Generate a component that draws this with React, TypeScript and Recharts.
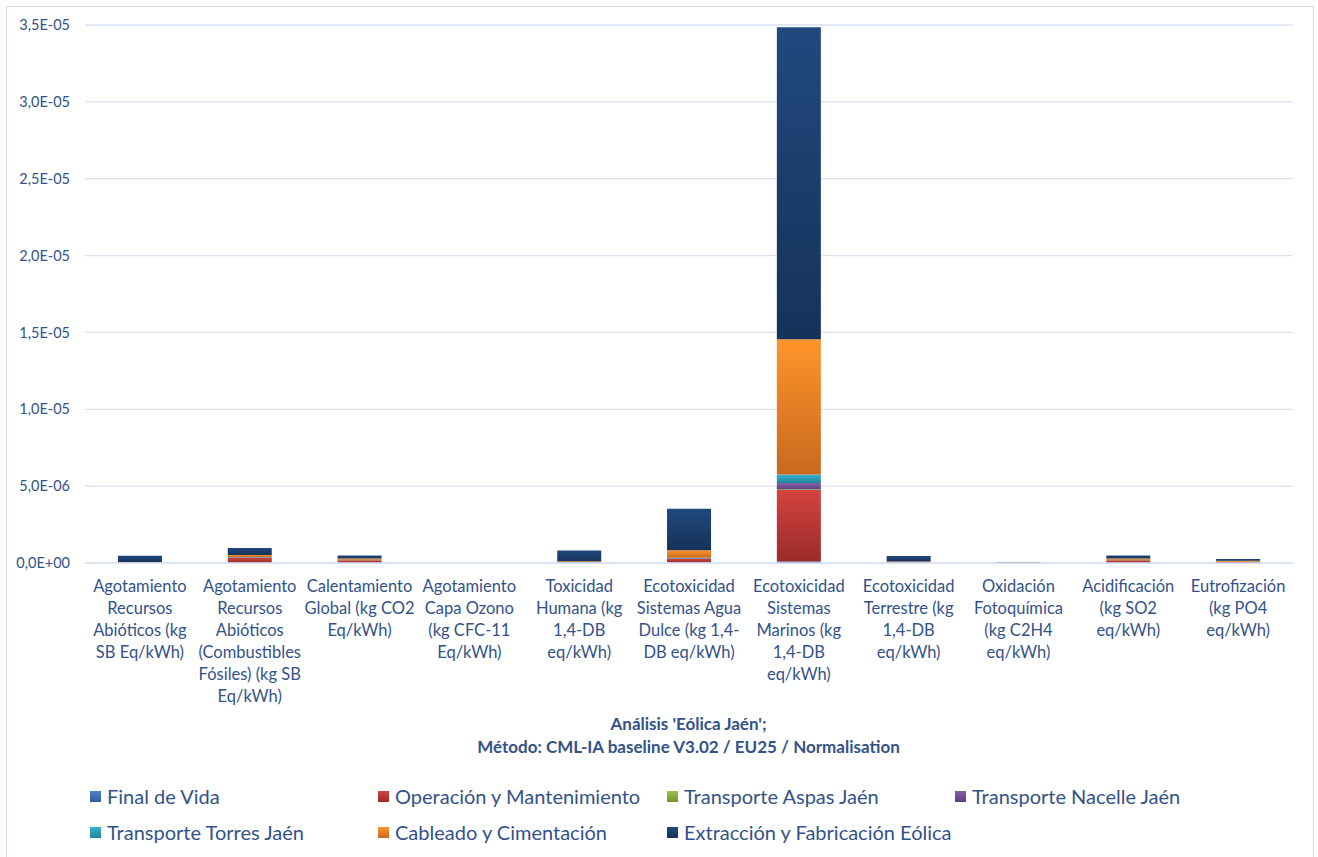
import React from "react";
import { BarChart, Bar, XAxis, YAxis, CartesianGrid } from "recharts";

// ---------- data ----------
const categoryLines: string[][] = [
  ["Agotamiento", "Recursos", "Abióticos (kg", "SB Eq/kWh)"],
  ["Agotamiento", "Recursos", "Abióticos", "(Combustibles", "Fósiles) (kg SB", "Eq/kWh)"],
  ["Calentamiento", "Global (kg CO2", "Eq/kWh)"],
  ["Agotamiento", "Capa Ozono", "(kg CFC-11", "Eq/kWh)"],
  ["Toxicidad", "Humana (kg", "1,4-DB", "eq/kWh)"],
  ["Ecotoxicidad", "Sistemas Agua", "Dulce (kg 1,4-", "DB eq/kWh)"],
  ["Ecotoxicidad", "Sistemas", "Marinos (kg", "1,4-DB", "eq/kWh)"],
  ["Ecotoxicidad", "Terrestre (kg", "1,4-DB", "eq/kWh)"],
  ["Oxidación", "Fotoquímica", "(kg C2H4", "eq/kWh)"],
  ["Acidificación", "(kg SO2", "eq/kWh)"],
  ["Eutrofización", "(kg PO4", "eq/kWh)"],
];

const finalDeVida = [5e-9, 1e-8, 5e-9, 0, 1e-8, 3e-8, 1e-7, 5e-9, 1e-9, 5e-9, 5e-9];
const operacion = [2e-8, 3.3e-7, 1.8e-7, 1e-9, 2e-8, 2.3e-7, 4.65e-6, 1e-8, 5e-9, 1.8e-7, 6e-8];
const transporteAspas = [1e-9, 5e-9, 3e-9, 0, 2e-9, 5e-9, 5e-8, 2e-9, 0, 3e-9, 2e-9];
const transporteNacelle = [5e-9, 2e-8, 1e-8, 0, 1e-8, 3e-8, 4e-7, 1e-8, 1e-9, 1e-8, 5e-9];
const transporteTorres = [7e-9, 2.5e-8, 1.5e-8, 0, 1.5e-8, 4e-8, 5.6e-7, 1.5e-8, 1e-9, 1.5e-8, 7e-9];
const cableado = [2e-8, 1.3e-7, 8e-8, 1e-9, 6e-8, 5e-7, 8.8e-6, 6e-8, 5e-9, 8e-8, 7e-8];
const extraccion = [4.2e-7, 4.5e-7, 2e-7, 5e-9, 7e-7, 2.7e-6, 2.03e-5, 3.5e-7, 6e-8, 2e-7, 1.1e-7];

const yTicks = [0, 5e-6, 1e-5, 1.5e-5, 2e-5, 2.5e-5, 3e-5, 3.5e-5];

const titleLines = ["Análisis 'Eólica Jaén';", "Método: CML-IA baseline V3.02 / EU25 / Normalisation"];

const series = [
  { key: "fin", name: "Final de Vida", values: finalDeVida, top: "#4F80CC", bottom: "#2F5E9E" },
  { key: "op", name: "Operación y Mantenimiento", values: operacion, top: "#D34340", bottom: "#9B2B2A" },
  { key: "aspas", name: "Transporte Aspas Jaén", values: transporteAspas, top: "#9CC04A", bottom: "#74952F" },
  { key: "nacelle", name: "Transporte Nacelle Jaén", values: transporteNacelle, top: "#8560A8", bottom: "#5E3F80" },
  { key: "torres", name: "Transporte Torres Jaén", values: transporteTorres, top: "#37B2D0", bottom: "#23839C" },
  { key: "cab", name: "Cableado y Cimentación", values: cableado, top: "#FF942B", bottom: "#C9691E" },
  { key: "ext", name: "Extracción y Fabricación Eólica", values: extraccion, top: "#21497E", bottom: "#15325A" },
];

const data = categoryLines.map((lines, i) => {
  const row: Record<string, any> = { name: lines.join(" "), idx: i };
  series.forEach((s) => {
    row[s.key] = s.values[i];
  });
  return row;
});

const TEXT = "#33528A";
const FONT = "Lato, 'Open Sans', sans-serif";

function fmt(v: number): string {
  if (v === 0) return "0,0E+00";
  const exp = Math.floor(Math.log10(v) + 1e-9);
  const m = v / Math.pow(10, exp);
  const sign = exp < 0 ? "-" : "+";
  const e = String(Math.abs(exp)).padStart(2, "0");
  return m.toFixed(1).replace(".", ",") + "E" + sign + e;
}

const XTick = (props: any) => {
  const { x, y, payload } = props;
  const lines = categoryLines[payload.index] || [];
  return (
    <text x={x} y={y} textAnchor="middle" fill={TEXT} fontSize={16.5} fontFamily={FONT}>
      {lines.map((l, i) => (
        <tspan key={i} x={x} y={y + 21 + i * 22}>
          {l}
        </tspan>
      ))}
    </text>
  );
};

export default function App() {
  return (
    <div style={{ position: "absolute", left: 0, top: 0, width: 1318, height: 857, background: "#fff", overflow: "hidden", fontFamily: FONT }}>
      <div style={{ position: "absolute", left: 6, top: 6, width: 1306, height: 900, border: "1px solid #D0DCEE" }} />
      <div style={{ position: "absolute", left: 0, top: 0 }}>
        <BarChart
          width={1318}
          height={857}
          data={data}
          margin={{ top: 25, right: 25, left: 0, bottom: 0 }}
          barCategoryGap="30%"
        >
          <defs>
            {series.map((s) => (
              <linearGradient key={s.key} id={"g_" + s.key} x1="0" y1="0" x2="0" y2="1">
                <stop offset="0%" stopColor={s.top} />
                <stop offset="100%" stopColor={s.bottom} />
              </linearGradient>
            ))}
          </defs>
          <CartesianGrid vertical={false} stroke="#D9E2F3" strokeWidth={1.3} />
          <XAxis
            dataKey="name"
            interval={0}
            height={294}
            tick={<XTick />}
            tickLine={false}
            axisLine={{ stroke: "#D9E2F3", strokeWidth: 1.3 }}
          />
          <YAxis
            width={85}
            domain={[0, 3.5e-5]}
            ticks={yTicks}
            tickFormatter={fmt}
            tick={{ fill: TEXT, fontSize: 14.5, fontFamily: FONT }}
            tickLine={false}
            axisLine={false}
            tickMargin={9}
          />
          {series.map((s) => (
            <Bar
              key={s.key}
              dataKey={s.key}
              name={s.name}
              stackId="a"
              fill={`url(#g_${s.key})`}
              isAnimationActive={false}
            />
          ))}
        </BarChart>
      </div>
      <div style={{ position: "absolute", left: 0, width: 1377, top: 712, textAlign: "center", color: TEXT, fontWeight: 700, fontSize: 17, lineHeight: "23px" }}>
        {titleLines.map((t, i) => (
          <div key={i}>{t}</div>
        ))}
      </div>
      {series.map((s, i) => {
        const col = i < 4 ? i : i - 4;
        const row = i < 4 ? 0 : 1;
        const colX = [90, 378, 667, 955][col];
        return (
          <div
            key={s.key}
            style={{ position: "absolute", left: colX, top: 783 + row * 36, height: 26, display: "flex", alignItems: "center", color: TEXT, fontSize: 20, whiteSpace: "nowrap" }}
          >
            <span style={{ display: "inline-block", width: 11, height: 11, marginRight: 6, background: `linear-gradient(${s.top}, ${s.bottom})` }} />
            <span>{s.name}</span>
          </div>
        );
      })}
    </div>
  );
}
